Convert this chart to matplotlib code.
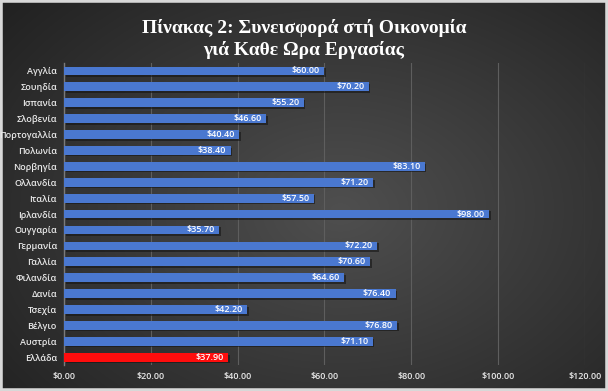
import numpy as np
import matplotlib
matplotlib.use("Agg")
import matplotlib.pyplot as plt
import matplotlib.patheffects as pe
from matplotlib.patches import Rectangle

countries = ["Αγγλία", "Σουηδία", "Ισπανία", "Σλοβενία", "Πορτογαλλία", "Πολωνία",
             "Νορβηγία", "Ολλανδία", "Ιταλία", "Ιρλανδία", "Ουγγαρία", "Γερμανία",
             "Γαλλία", "Φιλανδία", "Δανία", "Τσεχία", "Βέλγιο", "Αυστρία", "Ελλάδα"]
values = [60.00, 70.20, 55.20, 46.60, 40.40, 38.40, 83.10, 71.20, 57.50, 98.00,
          35.70, 72.20, 70.60, 64.60, 76.40, 42.20, 76.80, 71.10, 37.90]
highlight = "Ελλάδα"
xticks = [0, 20, 40, 60, 80, 100, 120]
title = "Πίνακας 2: Συνεισφορά στή Οικονομία\nγιά Καθε Ωρα Εργασίας"

sans = ["Open Sans", "DejaVu Sans"]

fig = plt.figure(figsize=(6.08, 3.91), dpi=100)

# dark radial gradient background
bg = fig.add_axes([0, 0, 1, 1])
yy, xx = np.mgrid[0:391, 0:608]
r = np.sqrt(((xx - 340) / 420.0) ** 2 + ((yy - 210) / 300.0) ** 2)
shade = np.clip(0.31 - 0.17 * r, 0.12, 0.31)
bg.imshow(np.dstack([shade] * 3), aspect="auto", extent=[0, 1, 0, 1])
bg.set_axis_off()
bg.add_patch(Rectangle((0, 0), 1, 1, transform=bg.transAxes, fill=False,
                       edgecolor="#d8d8d8", linewidth=4))

ax = fig.add_axes([0.105, 0.066, 0.857, 0.773])
ax.patch.set_alpha(0)

y = np.arange(len(countries))
colors = ["#ff0d0d" if c == highlight else "#4a78d0" for c in countries]
bars = ax.barh(y, values, height=0.55, color=colors, zorder=3,
               edgecolor="none")
for b in bars:
    b.set_path_effects([pe.SimplePatchShadow(offset=(1.2, -1.2), shadow_rgbFace="#151515",
                                              alpha=0.6), pe.Normal()])

for yi, v in zip(y, values):
    ax.text(v - 1.0, yi, f"${v:.2f}", ha="right", va="center", color="white",
            fontsize=6.5, family=sans, fontweight="semibold", zorder=4)

ax.set_ylim(len(countries) - 0.5, -0.5)
ax.set_xlim(0, 120)
ax.set_yticks(y)
ax.set_yticklabels(countries, family=sans, fontsize=6.5, color="#e8e8e8",
                   fontweight="semibold")
ax.set_xticks(xticks)
ax.set_xticklabels([f"${t:.2f}" for t in xticks], family=sans, fontsize=6.5,
                   color="#e8e8e8", fontweight="semibold")
ax.tick_params(length=0, pad=5)
ax.grid(axis="x", color="#5e5e5e", linewidth=0.8, zorder=0)
for s in ["top", "right", "bottom"]:
    ax.spines[s].set_visible(False)
ax.spines["left"].set_color("#7a7a7a")
ax.spines["left"].set_linewidth(1.0)

fig.text(0.5, 0.9, title, ha="center", va="center", color="white",
         fontsize=14, fontweight="bold", family=["Liberation Serif", "DejaVu Serif"],
         linespacing=1.25)

fig.savefig("out.png", dpi=100)
